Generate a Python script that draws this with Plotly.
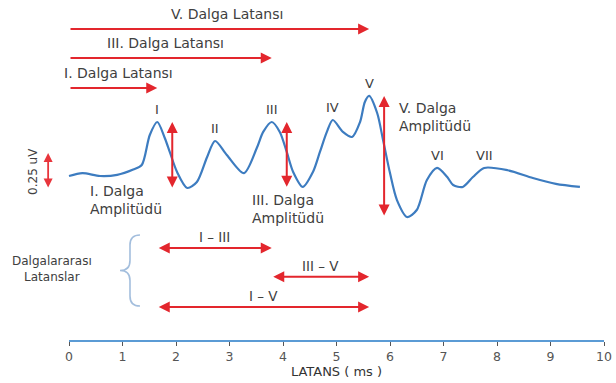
import plotly.graph_objects as go

# Auditory brainstem response waveform: latency (ms) vs amplitude (uV)
t_ms = [0.00, 0.25, 0.58, 0.90, 1.20, 1.36, 1.51, 1.65, 1.79, 1.89, 2.02, 2.21, 2.39,
        2.58, 2.73, 2.95, 3.27, 3.51, 3.63, 3.79, 3.94, 4.07, 4.19, 4.37, 4.56, 4.69,
        4.82, 4.93, 5.12, 5.29, 5.44, 5.53, 5.61, 5.76, 5.87, 6.00, 6.13, 6.32, 6.50,
        6.69, 6.88, 7.07, 7.18, 7.36, 7.55, 7.76, 8.20, 8.67, 9.10, 9.55]
amp_uv = [0.000, 0.020, 0.000, 0.008, 0.045, 0.076, 0.285, 0.375, 0.264, 0.160, 0.028,
          -0.083, -0.042, 0.130, 0.243, 0.146, 0.020, 0.194, 0.306, 0.375, 0.306, 0.167,
          0.028, -0.076, 0.028, 0.167, 0.306, 0.389, 0.306, 0.271, 0.375, 0.514, 0.556,
          0.4375, 0.250, 0.020, -0.167, -0.285, -0.236, -0.028, 0.056, -0.007, -0.0625,
          -0.076, -0.007, 0.056, 0.040, -0.014, -0.055, -0.076]

# Wave peaks
peak_names = ["I", "II", "III", "IV", "V", "VI", "VII"]
peak_ms = [1.65, 2.73, 3.79, 4.93, 5.61, 6.88, 7.76]
peak_uv = [0.375, 0.243, 0.375, 0.389, 0.556, 0.056, 0.056]

# Peak-to-trough amplitudes for waves I, III and V
amp_waves = ["I", "III", "V"]
amp_trough_uv = [-0.090, -0.085, -0.285]
amp_marker_ms = [1.93, 4.07, 5.89]

# Absolute latencies for waves I, III and V
lat_waves = ["I", "III", "V"]
lat_labels = ["I. Dalga Latansı", "III. Dalga Latansı", "V. Dalga Latansı"]

# Interpeak latencies
ipl_pairs = [("I", "III"), ("III", "V"), ("I", "V")]

scale_uv = 0.25

RED = "#e3262d"
BLUE = "#3d7cc0"
TEXT = "#404040"
FONT = "DejaVu Sans"

W, H = 616, 383
AX_L, AX_R = 69, 604          # pixel span of the 0-10 ms time axis
PX_PER_MS = (AX_R - AX_L) / 10.0

pk = dict(zip(peak_names, zip(peak_ms, peak_uv)))

fig = go.Figure()
# carrier for the visible time axis
fig.add_trace(go.Scatter(x=[0, 10], y=[0, 0], xaxis="x2", mode="none",
                         hoverinfo="skip", showlegend=False))
fig.add_trace(go.Scatter(
    x=t_ms, y=amp_uv, mode="lines",
    line=dict(color=BLUE, width=2.2, shape="spline", smoothing=0.8),
    hoverinfo="skip", showlegend=False,
))

ann = []


def arrow(x0, y0, x1, y1, both=False, color=RED, width=2, size=1.1):
    ann.append(dict(
        x=x1, y=y1, ax=x0, ay=y0, xref="x", yref="y", axref="x", ayref="y",
        text="", showarrow=True, arrowhead=2, startarrowhead=2,
        arrowside="end+start" if both else "end",
        arrowsize=size, startarrowsize=size, arrowwidth=width, arrowcolor=color,
        standoff=0, startstandoff=0,
    ))


def label(x, y, text, size=14, **kw):
    d = dict(x=x, y=y, xref="x", yref="y", text=text, showarrow=False,
             font=dict(family=FONT, size=size, color=TEXT))
    d.update(kw)
    ann.append(d)


# Absolute latency arrows (rows stacked above the waveform)
lat_rows = [0.611, 0.819, 1.021]
lat_label_x = [0.93, 1.81, 2.95]
for name, row, lx, txt in zip(lat_waves, lat_rows, lat_label_x, lat_labels):
    arrow(0.0, row, pk[name][0], row)
    label(lx, row, txt, yshift=15)

# Peak labels
for name, x, y in zip(peak_names, peak_ms, peak_uv):
    label(x, y, name, size=13, yanchor="bottom", yshift=3)

# Amplitude arrows
for name, tr, xm in zip(amp_waves, amp_trough_uv, amp_marker_ms):
    arrow(xm, tr, xm, pk[name][1], both=True)

label(0.355, -0.167, "I. Dalga<br>Amplitüdü", xanchor="left", align="left")
label(3.38, -0.226, "III. Dalga<br>Amplitüdü", xanchor="left", align="left")
label(6.13, 0.413, "V. Dalga<br>Amplitüdü", xanchor="left", align="left")

# Calibration bar, left of the time axis origin
cal_x, cal_lo = -0.39, -0.09
arrow(cal_x, cal_lo, cal_x, cal_lo + scale_uv, both=True, color="#e8353c",
      width=1.8, size=1.0)
label(-0.673, cal_lo + scale_uv / 2, f"{scale_uv} uV", size=12, textangle=-90)

# Interpeak latency arrows
ipl_rows = [-0.50, -0.70, -0.91]
for (a, b), row in zip(ipl_pairs, ipl_rows):
    arrow(pk[a][0], row, pk[b][0], row, both=True)
    label((pk[a][0] + pk[b][0]) / 2, row, f"{a} – {b}", size=13.5, yshift=11)

label(-0.318, -0.649, "Dalgalararası<br>Latanslar", size=12)

# Curly brace grouping the interpeak arrows
bx_tip, bx_arm, by_top, by_bot = 0.953, 1.327, -0.41, -0.903
bx_mid = (bx_tip + bx_arm) / 2
by_c = (by_top + by_bot) / 2
dy = 0.07
brace = (f"M {bx_arm},{by_top} Q {bx_mid},{by_top} {bx_mid},{by_top - dy} "
         f"L {bx_mid},{by_c + dy} Q {bx_mid},{by_c} {bx_tip},{by_c} "
         f"Q {bx_mid},{by_c} {bx_mid},{by_c - dy} "
         f"L {bx_mid},{by_bot + dy} Q {bx_mid},{by_bot} {bx_arm},{by_bot}")

fig.update_layout(
    width=W, height=H,
    margin=dict(l=0, r=0, t=0, b=43),
    paper_bgcolor="white", plot_bgcolor="rgba(0,0,0,0)",
    annotations=ann,
    shapes=[dict(type="path", path=brace, xref="x", yref="y",
                 line=dict(color="#a3bedd", width=1.6))],
    # drawing axis spanning the full width, same ms scale as the time axis
    xaxis=dict(range=[-AX_L / PX_PER_MS, (W - AX_L) / PX_PER_MS],
               visible=False, fixedrange=True),
    xaxis2=dict(
        domain=[AX_L / W, AX_R / W], anchor="y",
        range=[0, 10], dtick=1, showgrid=False, zeroline=False,
        showline=True, linecolor="#5b9bd5", linewidth=1.5,
        ticks="outside", ticklen=4, tickcolor="#555555", tickwidth=1,
        tickfont=dict(family=FONT, size=12.5, color="#555555"),
        title=dict(text="LATANS ( ms )", standoff=2,
                   font=dict(family=FONT, size=13, color="#333333")),
        automargin=False, fixedrange=True,
    ),
    yaxis=dict(range=[-1.1389, 1.2222], visible=False, fixedrange=True),
    showlegend=False,
)

fig.write_html("out.html")
